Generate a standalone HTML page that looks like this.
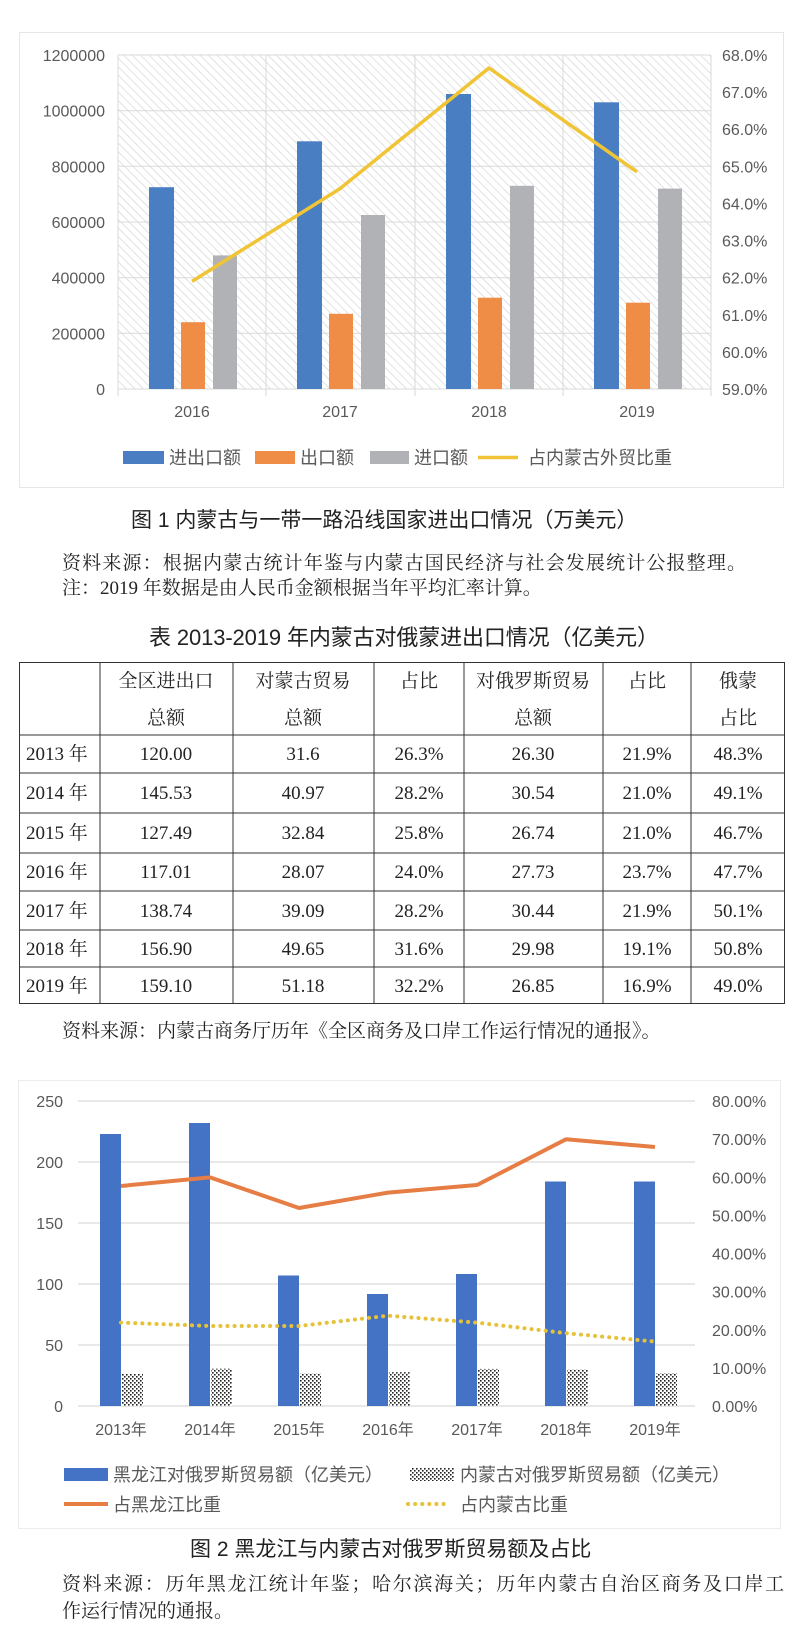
<!DOCTYPE html>
<html><head><meta charset="utf-8"><style>
html,body{margin:0;padding:0;background:#fff;}
svg{display:block;}
.ax{font-family:"Liberation Sans","Noto Sans CJK SC",sans-serif;font-size:16px;fill:#595959;}
.lg{font-family:"Liberation Sans","Noto Sans CJK SC",sans-serif;font-size:18px;fill:#595959;}
.cap{font-family:"Liberation Sans","Noto Sans CJK SC",sans-serif;font-size:21px;fill:#222;}
.src{font-family:"Liberation Serif","Noto Serif CJK SC",serif;font-size:19px;fill:#222;}
.tb{font-family:"Liberation Serif","Noto Serif CJK SC",serif;font-size:19px;fill:#222;}
</style></head><body>
<svg width="800" height="1650" viewBox="0 0 800 1650" xmlns="http://www.w3.org/2000/svg">
<defs>
<pattern id="hatch" width="6" height="6" patternUnits="userSpaceOnUse" patternTransform="rotate(-45)">
<rect width="6" height="6" fill="#fff"/><line x1="0" y1="0" x2="0" y2="6" stroke="#d8d8d8" stroke-width="1.5"/>
</pattern>
<pattern id="dots" width="4" height="4" patternUnits="userSpaceOnUse">
<rect width="4" height="4" fill="#fff"/><rect x="0" y="0" width="1.6" height="1.6" fill="#222"/><rect x="2" y="2" width="1.6" height="1.6" fill="#222"/>
</pattern>
</defs>
<rect width="800" height="1650" fill="#fff"/>

<!-- Chart 1 -->
<rect x="19.5" y="32.5" width="764" height="455" fill="#fff" stroke="#e6e6e6"/>
<rect x="118" y="55" width="593" height="334" fill="url(#hatch)"/>
<g stroke="#d9d9d9" stroke-width="1">
<line x1="118" y1="55" x2="711" y2="55"/><line x1="118" y1="110.7" x2="711" y2="110.7"/>
<line x1="118" y1="166.3" x2="711" y2="166.3"/><line x1="118" y1="222" x2="711" y2="222"/>
<line x1="118" y1="277.7" x2="711" y2="277.7"/><line x1="118" y1="333.3" x2="711" y2="333.3"/>
<line x1="118" y1="389" x2="711" y2="389"/>
<line x1="118" y1="55" x2="118" y2="396"/><line x1="266" y1="55" x2="266" y2="396"/>
<line x1="415" y1="55" x2="415" y2="396"/><line x1="563" y1="55" x2="563" y2="396"/>
<line x1="711" y1="55" x2="711" y2="396"/>
</g>
<g fill="#4a7ec3">
<rect x="149" y="187.2" width="25" height="201.8"/><rect x="297" y="141.3" width="25" height="247.7"/>
<rect x="446" y="94" width="25" height="295"/><rect x="594" y="102.3" width="25" height="286.7"/>
</g>
<g fill="#ef8c45">
<rect x="181" y="322.2" width="24" height="66.8"/><rect x="329" y="313.8" width="24" height="75.2"/>
<rect x="478" y="297.7" width="24" height="91.3"/><rect x="626" y="302.7" width="24" height="86.3"/>
</g>
<g fill="#b0b2b5">
<rect x="213" y="255.4" width="24" height="133.6"/><rect x="361" y="215" width="24" height="174"/>
<rect x="510" y="185.8" width="24" height="203.2"/><rect x="658" y="188.6" width="24" height="200.4"/>
</g>
<polyline points="192,281.4 340,188.6 489,68 637,171.9" fill="none" stroke="#f0c435" stroke-width="3.5" stroke-linejoin="round"/>
<g class="ax" text-anchor="end">
<text x="105" y="61">1200000</text><text x="105" y="116.7">1000000</text><text x="105" y="172.3">800000</text>
<text x="105" y="228">600000</text><text x="105" y="283.7">400000</text><text x="105" y="339.3">200000</text>
<text x="105" y="395">0</text>
</g>
<g class="ax">
<text x="722" y="61">68.0%</text><text x="722" y="98.1">67.0%</text><text x="722" y="135.2">66.0%</text>
<text x="722" y="172.3">65.0%</text><text x="722" y="209.4">64.0%</text><text x="722" y="246.6">63.0%</text>
<text x="722" y="283.7">62.0%</text><text x="722" y="320.8">61.0%</text><text x="722" y="357.9">60.0%</text>
<text x="722" y="395">59.0%</text>
</g>
<g class="ax" text-anchor="middle">
<text x="192" y="417">2016</text><text x="340" y="417">2017</text><text x="489" y="417">2018</text><text x="637" y="417">2019</text>
</g>
<rect x="123" y="451" width="41" height="13" fill="#4a7ec3"/><text class="lg" x="169" y="464">进出口额</text>
<rect x="255" y="451" width="40" height="13" fill="#ef8c45"/><text class="lg" x="300" y="464">出口额</text>
<rect x="370" y="451" width="39" height="13" fill="#b0b2b5"/><text class="lg" x="414" y="464">进口额</text>
<line x1="478" y1="457.5" x2="518" y2="457.5" stroke="#f0c435" stroke-width="3.5"/><text class="lg" x="528" y="464">占内蒙古外贸比重</text>

<text class="cap" x="131" y="527">图 1  内蒙古与一带一路沿线国家进出口情况（万美元）</text>
<text class="src" x="62" y="569" textLength="684">资料来源：根据内蒙古统计年鉴与内蒙古国民经济与社会发展统计公报整理。</text>
<text class="src" x="62" y="594">注：2019 年数据是由人民币金额根据当年平均汇率计算。</text>

<!-- Table -->
<text class="cap" x="149" y="645" style="font-size:22px" textLength="510">表  2013-2019 年内蒙古对俄蒙进出口情况（亿美元）</text>
<g stroke="#333" stroke-width="1" fill="none">
<rect x="19.5" y="662.5" width="765" height="341"/>
<line x1="20" y1="735" x2="784" y2="735"/><line x1="20" y1="773" x2="784" y2="773"/>
<line x1="20" y1="813" x2="784" y2="813"/><line x1="20" y1="853" x2="784" y2="853"/>
<line x1="20" y1="891" x2="784" y2="891"/><line x1="20" y1="930" x2="784" y2="930"/>
<line x1="20" y1="967" x2="784" y2="967"/>
<line x1="100" y1="662" x2="100" y2="1004"/><line x1="233" y1="662" x2="233" y2="1004"/>
<line x1="374" y1="662" x2="374" y2="1004"/><line x1="464" y1="662" x2="464" y2="1004"/>
<line x1="603" y1="662" x2="603" y2="1004"/><line x1="691" y1="662" x2="691" y2="1004"/>
</g>
<g class="tb" text-anchor="middle">
<text x="166" y="687">全区进出口</text><text x="166" y="724">总额</text>
<text x="303" y="687">对蒙古贸易</text><text x="303" y="724">总额</text>
<text x="419" y="687">占比</text>
<text x="533" y="687">对俄罗斯贸易</text><text x="533" y="724">总额</text>
<text x="647" y="687">占比</text>
<text x="738" y="687">俄蒙</text><text x="738" y="724">占比</text>
</g>
<g class="tb">
<text x="26" y="760">2013 年</text><text x="26" y="799">2014 年</text><text x="26" y="839">2015 年</text>
<text x="26" y="878">2016 年</text><text x="26" y="917">2017 年</text><text x="26" y="955">2018 年</text><text x="26" y="992">2019 年</text>
</g>
<g class="tb" text-anchor="middle">
<text x="166" y="760">120.00</text><text x="303" y="760">31.6</text><text x="419" y="760">26.3%</text><text x="533" y="760">26.30</text><text x="647" y="760">21.9%</text><text x="738" y="760">48.3%</text>
<text x="166" y="799">145.53</text><text x="303" y="799">40.97</text><text x="419" y="799">28.2%</text><text x="533" y="799">30.54</text><text x="647" y="799">21.0%</text><text x="738" y="799">49.1%</text>
<text x="166" y="839">127.49</text><text x="303" y="839">32.84</text><text x="419" y="839">25.8%</text><text x="533" y="839">26.74</text><text x="647" y="839">21.0%</text><text x="738" y="839">46.7%</text>
<text x="166" y="878">117.01</text><text x="303" y="878">28.07</text><text x="419" y="878">24.0%</text><text x="533" y="878">27.73</text><text x="647" y="878">23.7%</text><text x="738" y="878">47.7%</text>
<text x="166" y="917">138.74</text><text x="303" y="917">39.09</text><text x="419" y="917">28.2%</text><text x="533" y="917">30.44</text><text x="647" y="917">21.9%</text><text x="738" y="917">50.1%</text>
<text x="166" y="955">156.90</text><text x="303" y="955">49.65</text><text x="419" y="955">31.6%</text><text x="533" y="955">29.98</text><text x="647" y="955">19.1%</text><text x="738" y="955">50.8%</text>
<text x="166" y="992">159.10</text><text x="303" y="992">51.18</text><text x="419" y="992">32.2%</text><text x="533" y="992">26.85</text><text x="647" y="992">16.9%</text><text x="738" y="992">49.0%</text>
</g>
<text class="src" x="62" y="1037">资料来源：内蒙古商务厅历年《全区商务及口岸工作运行情况的通报》。</text>

<!-- Chart 2 -->
<rect x="18.5" y="1080.5" width="762" height="448" fill="#fff" stroke="#ececec"/>
<g stroke="#d9d9d9" stroke-width="1.2">
<line x1="78" y1="1101" x2="695" y2="1101"/><line x1="78" y1="1162" x2="695" y2="1162"/>
<line x1="78" y1="1223" x2="695" y2="1223"/><line x1="78" y1="1284" x2="695" y2="1284"/>
<line x1="78" y1="1345" x2="695" y2="1345"/><line x1="78" y1="1406" x2="695" y2="1406"/>
</g>
<g fill="#4472c4">
<rect x="100" y="1134" width="21" height="272"/><rect x="189" y="1123" width="21" height="283"/>
<rect x="278" y="1275.5" width="21" height="130.5"/><rect x="367" y="1294" width="21" height="112"/>
<rect x="456" y="1274" width="21" height="132"/><rect x="545" y="1181.5" width="21" height="224.5"/>
<rect x="634" y="1181.5" width="21" height="224.5"/>
</g>
<g fill="url(#dots)">
<rect x="122" y="1373.9" width="21" height="32.1"/><rect x="211" y="1368.7" width="21" height="37.3"/>
<rect x="300" y="1373.4" width="21" height="32.6"/><rect x="389" y="1372.2" width="21" height="33.8"/>
<rect x="478" y="1368.9" width="21" height="37.1"/><rect x="567" y="1369.4" width="21" height="36.6"/>
<rect x="656" y="1373.2" width="21" height="32.8"/>
</g>
<polyline points="121,1186 210,1177.4 299,1208 388,1192.6 477,1185 566,1139.3 655,1147" fill="none" stroke="#e57d45" stroke-width="4" stroke-linejoin="round"/>
<polyline points="121,1322.6 210,1326 299,1326 388,1315.7 477,1322.6 566,1333.2 655,1341.6" fill="none" stroke="#e6c13a" stroke-width="4" stroke-dasharray="0.1,7" stroke-linecap="round"/>
<g class="ax" text-anchor="end">
<text x="63" y="1107">250</text><text x="63" y="1168">200</text><text x="63" y="1229">150</text>
<text x="63" y="1290">100</text><text x="63" y="1351">50</text><text x="63" y="1412">0</text>
</g>
<g class="ax">
<text x="712" y="1107">80.00%</text><text x="712" y="1145.1">70.00%</text><text x="712" y="1183.3">60.00%</text>
<text x="712" y="1221.4">50.00%</text><text x="712" y="1259.5">40.00%</text><text x="712" y="1297.6">30.00%</text>
<text x="712" y="1335.8">20.00%</text><text x="712" y="1373.9">10.00%</text><text x="712" y="1412">0.00%</text>
</g>
<g class="ax" text-anchor="middle">
<text x="121" y="1435">2013年</text><text x="210" y="1435">2014年</text><text x="299" y="1435">2015年</text>
<text x="388" y="1435">2016年</text><text x="477" y="1435">2017年</text><text x="566" y="1435">2018年</text><text x="655" y="1435">2019年</text>
</g>
<rect x="64" y="1468" width="44" height="13" fill="#4472c4"/><text class="lg" x="113" y="1481">黑龙江对俄罗斯贸易额（亿美元）</text>
<rect x="410" y="1468" width="44" height="13" fill="url(#dots)"/><text class="lg" x="460" y="1481">内蒙古对俄罗斯贸易额（亿美元）</text>
<line x1="64" y1="1504" x2="108" y2="1504" stroke="#e57d45" stroke-width="4"/><text class="lg" x="113" y="1511">占黑龙江比重</text>
<line x1="408" y1="1504" x2="450" y2="1504" stroke="#e6c13a" stroke-width="4" stroke-dasharray="0.1,7" stroke-linecap="round"/><text class="lg" x="460" y="1511">占内蒙古比重</text>

<text class="cap" x="190" y="1556">图 2  黑龙江与内蒙古对俄罗斯贸易额及占比</text>
<text class="src" x="62" y="1590" textLength="722">资料来源：历年黑龙江统计年鉴；哈尔滨海关；历年内蒙古自治区商务及口岸工</text>
<text class="src" x="62" y="1617">作运行情况的通报。</text>
</svg>
</body></html>
